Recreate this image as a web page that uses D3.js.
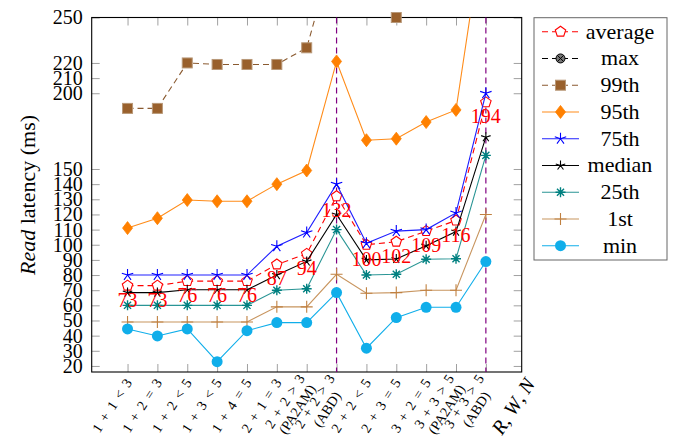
<!DOCTYPE html>
<html>
<head>
<meta charset="utf-8">
<script src="https://cdn.jsdelivr.net/npm/d3@7"></script>
<style>
  body { margin: 0; background: #fff; }
</style>
</head>
<body>
<div id="chart"></div>
<script>
// x categories (R + W vs N), two-line ones split
var categories = [
  ["1 + 1 < 3"], ["1 + 2 = 3"], ["1 + 2 < 5"], ["1 + 3 < 5"], ["1 + 4 = 5"],
  ["2 + 1 = 3"], ["2 + 2 > 3", "(PA2AM)"], ["2 + 2 > 3", "(ABD)"],
  ["2 + 2 < 5"], ["2 + 3 = 5"], ["3 + 2 = 5"], ["3 + 3 > 5", "(PA2AM)"], ["3 + 3 > 5", "(ABD)"]
];
var yTicks = [20, 30, 40, 50, 60, 70, 80, 90, 100, 110, 120, 130, 140, 150, 200, 210, 220, 250];
var splitAt = [7, 12]; // dashed separators

var average = [73, 73, 76, 76, 76, 87, 94, 132, 100, 102, 109, 116, 194];
var maxv    = [330, 320, 350, 340, 340, 370, 400, 600, 430, 460, 490, 530, 800]; // all off the top
var p99     = [190, 190, 220, 219, 219, 219, 230, 300, 280, 250, 270, 290, 400];
var p95     = [111, 117.5, 129.5, 128.7, 128.7, 140, 149, 221, 169, 170, 181, 189, 320];
var p75     = [80, 80, 80, 80, 80, 99, 108, 140, 101, 109, 110, 121, 200];
var median  = [68.4, 68.4, 70.3, 70.3, 70.3, 80, 89, 120, 90, 90.6, 99.4, 108.7, 171];
var p25     = [60, 60, 60, 60, 60, 70, 71, 110, 80, 80.5, 90.4, 90.8, 159];
var p1      = [49, 49, 49, 49, 49, 59, 59, 80.5, 68, 68.4, 70, 70, 120];
var minv    = [44.4, 39.8, 44.4, 22.8, 43.3, 48.6, 48.6, 68.4, 31.7, 51.9, 58.7, 58.7, 88.9];

var series = [
  {name: "average", values: average, color: "#ff0000", line: "#ff0000", dash: "6,4", mark: "pentagon"},
  {name: "max",     values: maxv,    color: "#555555", line: "#000000", dash: "6,4", mark: "otimes"},
  {name: "99th",    values: p99,     color: "#99602c", line: "#8a5a30", dash: "6,4", mark: "square"},
  {name: "95th",    values: p95,     color: "#ff8000", line: "#ff8c1a", dash: null,  mark: "diamond"},
  {name: "75th",    values: p75,     color: "#0000ff", line: "#2020ff", dash: null,  mark: "star"},
  {name: "median",  values: median,  color: "#000000", line: "#000000", dash: null,  mark: "smallstar"},
  {name: "25th",    values: p25,     color: "#008080", line: "#2a9595", dash: null,  mark: "asterisk"},
  {name: "1st",     values: p1,      color: "#c08040", line: "#c8955f", dash: null,  mark: "plus"},
  {name: "min",     values: minv,    color: "#10aeea", line: "#10aeea", dash: null,  mark: "circle"}
];

var FONT = "'Liberation Serif', 'Times New Roman', 'DejaVu Serif', serif";
var W = 675, H = 437;
var plot = {left: 91.7, right: 521.7, top: 17.5, bottom: 372};

var svg = d3.select("#chart").append("svg")
  .attr("width", W).attr("height", H)
  .attr("font-family", FONT);

var x = d3.scalePoint()
  .domain(d3.range(categories.length))
  .range([plot.left, plot.right])
  .padding(1.2);

var y = d3.scaleLinear()
  .domain([16, 250])
  .range([plot.bottom, plot.top]);

svg.append("clipPath").attr("id", "clip")
  .append("rect")
  .attr("x", plot.left).attr("y", plot.top)
  .attr("width", plot.right - plot.left).attr("height", plot.bottom - plot.top);

// ticks on all four sides, pointing inwards
function styleAxis(g) {
  g.attr("font-family", null).attr("font-size", null);
  g.select(".domain").remove();
  g.selectAll(".tick line").attr("stroke", "#a0a0a0").attr("stroke-width", 1);
}
svg.append("g").attr("transform", "translate(" + plot.left + ",0)")
  .call(d3.axisLeft(y).tickValues(yTicks).tickSize(-8).tickPadding(9))
  .call(styleAxis)
  .selectAll("text")
    .attr("font-size", 20)
    .attr("fill", "#000");
svg.append("g").attr("transform", "translate(" + plot.right + ",0)")
  .call(d3.axisRight(y).tickValues(yTicks).tickSize(-8).tickFormat(""))
  .call(styleAxis);
svg.append("g").attr("transform", "translate(0," + plot.bottom + ")")
  .call(d3.axisBottom(x).tickSize(-8).tickFormat(""))
  .call(styleAxis);
svg.append("g").attr("transform", "translate(0," + plot.top + ")")
  .call(d3.axisTop(x).tickSize(-8).tickFormat(""))
  .call(styleAxis);

// frame
svg.append("rect")
  .attr("x", plot.left).attr("y", plot.top)
  .attr("width", plot.right - plot.left).attr("height", plot.bottom - plot.top)
  .attr("fill", "none").attr("stroke", "#000").attr("stroke-width", 1.1);

// rotated x tick labels
var angle = -57;
categories.forEach(function(lines, i) {
  var g = svg.append("g")
    .attr("transform", "translate(" + (x(i) + 1) + "," + (plot.bottom + 8) + ") rotate(" + angle + ")");
  var t = g.append("text").attr("font-size", 14).attr("word-spacing", 2.5).attr("fill", "#000");
  if (lines.length === 1) {
    t.attr("text-anchor", "end").attr("dy", "0.35em").text(lines[0]);
  } else {
    var spans = t.selectAll("tspan").data(lines).enter().append("tspan")
      .attr("text-anchor", "middle")
      .attr("dy", function(d, k) { return k === 0 ? "-0.2em" : "1.05em"; })
      .text(function(d) { return d; });
    var wmax = 0;
    spans.each(function() { wmax = Math.max(wmax, this.getComputedTextLength()); });
    spans.attr("x", -wmax / 2);
  }
});

// x axis label
svg.append("text")
  .attr("transform", "translate(513,406) rotate(" + angle + ")")
  .attr("text-anchor", "middle").attr("dy", "0.35em")
  .attr("font-size", 20)
  .html('<tspan font-style="italic">R</tspan>, <tspan font-style="italic">W</tspan>, <tspan font-style="italic">N</tspan>');

// y axis label
svg.append("text")
  .attr("transform", "translate(27,195) rotate(-90)")
  .attr("text-anchor", "middle").attr("dy", "0.35em")
  .attr("font-size", 22)
  .html('<tspan font-style="italic">Read</tspan> latency (ms)');

// dashed separators
svg.selectAll(".sep").data(splitAt).enter().append("line")
  .attr("x1", function(d) { return x(d); }).attr("x2", function(d) { return x(d); })
  .attr("y1", plot.top).attr("y2", plot.bottom)
  .attr("stroke", "#800080").attr("stroke-width", 1.2).attr("stroke-dasharray", "6,4");

// marker shapes
function drawMark(g, kind, color, cx, cy) {
  var i, a, p = "";
  if (kind === "pentagon") {
    var pts = [];
    for (i = 0; i < 5; i++) { a = (-90 + 72 * i) * Math.PI / 180; pts.push([cx + 5.5 * Math.cos(a), cy + 5.5 * Math.sin(a)]); }
    g.append("polygon").attr("points", pts.join(" "))
      .attr("fill", "#fff").attr("stroke", color).attr("stroke-width", 1.1);
  } else if (kind === "otimes") {
    g.append("circle").attr("cx", cx).attr("cy", cy).attr("r", 4.5)
      .attr("fill", "#777").attr("stroke", "#000").attr("stroke-width", 1);
    g.append("path").attr("d", "M" + (cx - 3.2) + "," + (cy - 3.2) + "L" + (cx + 3.2) + "," + (cy + 3.2) +
      "M" + (cx - 3.2) + "," + (cy + 3.2) + "L" + (cx + 3.2) + "," + (cy - 3.2))
      .attr("stroke", "#000").attr("stroke-width", 1);
  } else if (kind === "square") {
    g.append("rect").attr("x", cx - 5).attr("y", cy - 5).attr("width", 10).attr("height", 10)
      .attr("fill", color).attr("stroke", "#b89878").attr("stroke-width", 1);
  } else if (kind === "diamond") {
    g.append("path").attr("d", "M" + cx + "," + (cy - 6.5) + "L" + (cx + 5) + "," + cy + "L" + cx + "," + (cy + 6.5) + "L" + (cx - 5) + "," + cy + "Z")
      .attr("fill", color).attr("stroke", color).attr("stroke-width", 0.8);
  } else if (kind === "star" || kind === "smallstar") {
    var r = kind === "star" ? 6 : 5;
    for (i = 0; i < 5; i++) { a = (-90 + 72 * i) * Math.PI / 180; p += "M" + cx + "," + cy + "L" + (cx + r * Math.cos(a)) + "," + (cy + r * Math.sin(a)); }
    g.append("path").attr("d", p).attr("stroke", color).attr("stroke-width", 1.1).attr("fill", "none");
  } else if (kind === "asterisk") {
    for (i = 0; i < 8; i++) { a = (90 + 45 * i) * Math.PI / 180; p += "M" + cx + "," + cy + "L" + (cx + 5 * Math.cos(a)) + "," + (cy + 5 * Math.sin(a)); }
    g.append("path").attr("d", p).attr("stroke", color).attr("stroke-width", 1.4).attr("fill", "none");
  } else if (kind === "plus") {
    g.append("path").attr("d", "M" + (cx - 6) + "," + cy + "L" + (cx + 6) + "," + cy + "M" + cx + "," + (cy - 6) + "L" + cx + "," + (cy + 6))
      .attr("stroke", color).attr("stroke-width", 1.1);
  } else if (kind === "circle") {
    g.append("circle").attr("cx", cx).attr("cy", cy).attr("r", 5.5).attr("fill", color);
  }
}

var line = d3.line()
  .x(function(d, i) { return x(i); })
  .y(function(d) { return y(d); });

series.forEach(function(s) {
  var g = svg.append("g");
  g.append("path")
    .attr("d", line(s.values))
    .attr("clip-path", "url(#clip)")
    .attr("fill", "none")
    .attr("stroke", s.line)
    .attr("stroke-width", 1.1)
    .attr("stroke-dasharray", s.dash);
  s.values.forEach(function(v, i) {
    if (v <= y.domain()[1] && v >= y.domain()[0]) drawMark(g, s.mark, s.color, x(i), y(v));
  });
});

// value labels under the average marks
svg.append("g").selectAll("text").data(average).enter().append("text")
  .attr("x", function(d, i) { return x(i); })
  .attr("y", function(d) { return y(d) + 21; })
  .attr("text-anchor", "middle")
  .attr("font-size", 20)
  .attr("fill", "#ff0000")
  .text(function(d) { return d; });

// legend
var lg = svg.append("g");
lg.append("rect")
  .attr("x", 534).attr("y", 17.7).attr("width", 133).attr("height", 242.3)
  .attr("fill", "#fff").attr("stroke", "#666").attr("stroke-width", 1);
series.forEach(function(s, i) {
  var ly = 31.7 + i * 26.75;
  lg.append("line").attr("x1", 542).attr("x2", 579).attr("y1", ly).attr("y2", ly)
    .attr("stroke", s.line).attr("stroke-width", 1.1).attr("stroke-dasharray", s.dash);
  drawMark(lg, s.mark, s.color, 560.5, ly);
  lg.append("text").attr("x", 620).attr("y", ly).attr("dy", "0.32em")
    .attr("text-anchor", "middle").attr("font-size", 22).text(s.name);
});

svg.selectAll("text").style("font-family", FONT);
</script>
</body>
</html>
